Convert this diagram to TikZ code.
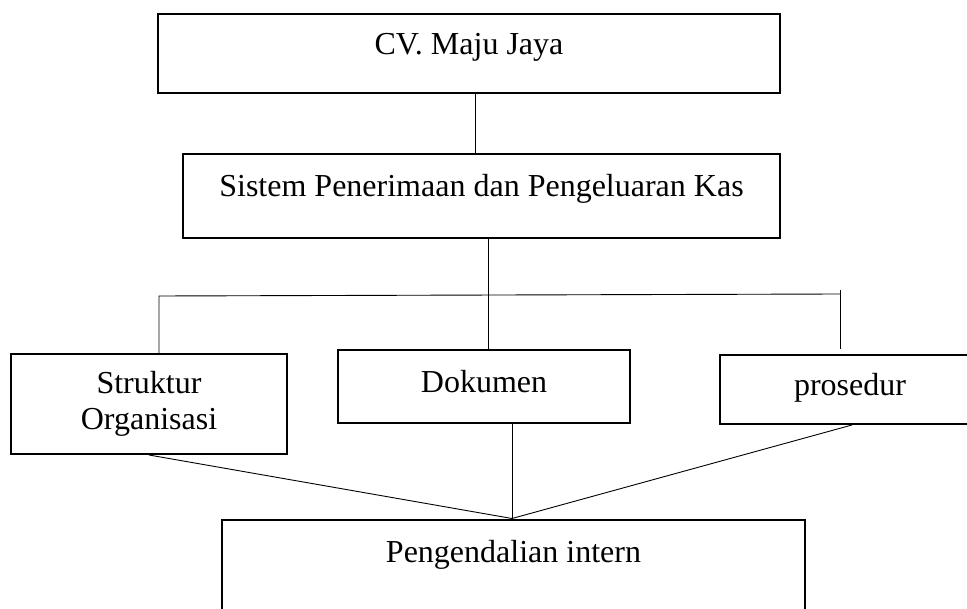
\documentclass[tikz,border=0pt]{standalone}
\usepackage{fontspec}
\setmainfont{Liberation Serif}
\usepackage{tikz}
\usetikzlibrary{positioning, calc}

\begin{document}
\begin{tikzpicture}[
    x=1pt, y=-1pt,
    box/.style={rectangle, draw=black, line width=2pt, inner sep=0pt, align=center, font=\fontsize{32}{36}\selectfont},
    link/.style={draw=black, line width=0.9pt}
]
    \useasboundingbox (0,0) rectangle (967,609);

    % Top levels
    \node[box, minimum width=622pt, text height=41pt, text depth=38pt] (cv) at (469, 53.5) {CV. Maju Jaya};
    \node[box, minimum width=597pt, text height=43pt, text depth=41pt] (sistem) at (481.5, 196) {Sistem Penerimaan dan Pengeluaran Kas};

    \draw[link] ([xshift=6pt]cv.south) -- ([xshift=-6.5pt]sistem.north);

    % Components
    \node[box, minimum width=276pt, minimum height=100pt] (struktur) at (149, 404) {Struktur\\Organisasi};
    \node[box, minimum width=292pt, text height=43pt, text depth=30pt] (dokumen) at (484, 386.5) {Dokumen};
    \node[box, minimum width=260pt, text height=41pt, text depth=28pt] (prosedur) at (850, 389.5) {prosedur};

    \coordinate (busL) at (159, 296);
    \coordinate (busR) at (840, 294);
    \coordinate (tickR) at (840, 290);
    \coordinate (dropR) at (840, 349);

    \draw[link] ([xshift=6.5pt]sistem.south) -- ([xshift=4pt]dokumen.north);
    \draw[link] ([xshift=10pt]struktur.north) -- (busL) -- (busR);
    \draw[link] (tickR) -- (dropR);

    % Result
    \node[box, minimum width=583pt, text height=42.5pt, text depth=63pt] (intern) at (513.5, 572.25) {Pengendalian intern};

    \draw[link] (struktur.south) -- ([xshift=-1.5pt]intern.north);
    \draw[link] ([xshift=28pt]dokumen.south) -- ([xshift=-1.5pt]intern.north);
    \draw[link] ([xshift=2pt]prosedur.south) -- ([xshift=-1.5pt]intern.north);
\end{tikzpicture}
\end{document}
